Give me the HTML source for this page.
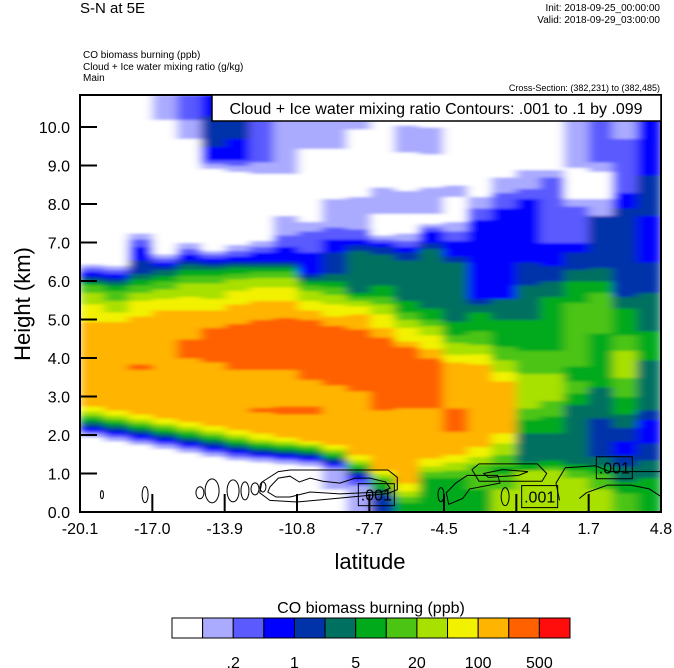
<!DOCTYPE html>
<html><head><meta charset="utf-8"><style>
html,body{margin:0;padding:0;background:#fff;}
svg{display:block;font-family:"Liberation Sans",sans-serif;}
</style></head><body>
<svg id="chart" width="674" height="668" viewBox="0 0 674 668" xmlns="http://www.w3.org/2000/svg">
<defs>
<filter id="hblur" x="0" y="0" width="1" height="1" filterUnits="objectBoundingBox">
<feGaussianBlur in="SourceGraphic" stdDeviation="5 1.2" edgeMode="duplicate"/>
</filter>
<clipPath id="plotclip"><rect x="80" y="95" width="581" height="417"/></clipPath>
</defs>
<text x="80" y="13" font-size="15">S-N at 5E</text>
<text x="660" y="11" font-size="10" text-anchor="end">Init: 2018-09-25_00:00:00</text>
<text x="660" y="23" font-size="10" text-anchor="end">Valid: 2018-09-29_03:00:00</text>
<text x="83" y="58" font-size="10">CO biomass burning   (ppb)</text>
<text x="83" y="70" font-size="10">Cloud + Ice water mixing ratio   (g/kg)</text>
<text x="83" y="81" font-size="10">Main</text>
<text x="660" y="91" font-size="9" text-anchor="end">Cross-Section: (382,231) to (382,485)</text>
<g clip-path="url(#plotclip)">
<g id="field" filter="url(#hblur)"></g>
</g>
<g id="contours"></g>
<rect x="80" y="95" width="581" height="417" fill="none" stroke="#000" stroke-width="2"/>
<g id="axes"></g>
<rect x="212" y="95" width="449" height="26" fill="#fff" stroke="#000" stroke-width="1.5"/>
<text x="436" y="114" font-size="16" text-anchor="middle">Cloud + Ice water mixing ratio Contours: .001 to .1 by .099</text>
<text x="370" y="569" font-size="22" text-anchor="middle">latitude</text>
<text transform="translate(30,304) rotate(-90)" font-size="22" text-anchor="middle">Height (km)</text>
<text x="371" y="613" font-size="16" text-anchor="middle">CO biomass burning  (ppb)</text>
<g id="colorbar"></g>
</svg>
<script>
const levelColors = ["#ffffff","#aaaaff","#5a5aff","#0000ff","#0033aa","#007060","#00aa1a","#4cc414","#a8e000","#f2f200","#ffb400","#ff6000","#ff0d0d"];
const xTickLabels = ["-20.1","-17.0","-13.9","-10.8","-7.7","-4.5","-1.4","1.7","4.8"];
const xTickValues = [-20.1,-17.0,-13.9,-10.8,-7.7,-4.5,-1.4,1.7,4.8];
const yTickValues = [0,1,2,3,4,5,6,7,8,9,10];
const colorbarLabels = [".2","1","5","20","100","500"];
const colorbarLabelIdx = [2,4,6,8,10,12];
// per-column vertical profiles: [level, top height km] bottom-up
const profiles = [
[[0,1.95],[1,2.05],[2,2.12],[3,2.2],[4,2.28],[5,2.36],[6,2.44],[7,2.52],[8,2.62],[9,2.75],[10,4.95],[9,5.4],[8,5.71],[7,5.9],[6,5.97],[5,6.05],[4,6.15],[3,6.25],[2,6.35],[1,6.45],[0,10.83]],
[[0,1.85],[1,1.95],[2,2.03],[3,2.11],[4,2.19],[5,2.27],[6,2.35],[7,2.43],[8,2.52],[9,2.65],[10,4.95],[9,5.2],[8,5.5],[7,5.75],[6,5.9],[5,6.0],[4,6.1],[3,6.2],[2,6.3],[1,6.4],[0,10.83]],
[[0,1.75],[1,1.85],[2,1.93],[3,2.01],[4,2.09],[5,2.17],[6,2.25],[7,2.33],[8,2.42],[9,2.55],[10,3.7],[11,3.85],[10,5.1],[9,5.5],[8,5.7],[7,5.9],[6,6.05],[5,6.2],[4,6.55],[3,6.9],[2,7.1],[1,7.25],[0,10.83]],
[[0,1.65],[1,1.75],[2,1.83],[3,1.91],[4,1.99],[5,2.07],[6,2.15],[7,2.23],[8,2.32],[9,2.45],[10,5.25],[9,5.55],[8,5.8],[7,6.0],[6,6.15],[5,6.3],[4,6.4],[3,6.5],[2,6.6],[1,6.7],[0,10.2],[1,10.83]],
[[0,1.55],[1,1.65],[2,1.73],[3,1.81],[4,1.89],[5,1.97],[6,2.05],[7,2.13],[8,2.22],[9,2.35],[10,4.0],[11,4.5],[10,5.25],[9,5.6],[8,5.95],[7,6.15],[6,6.3],[5,6.45],[4,6.55],[3,6.7],[2,6.85],[1,7.0],[0,9.7],[1,10.2],[2,10.83]],
[[0,1.45],[1,1.55],[2,1.63],[3,1.71],[4,1.79],[5,1.87],[6,1.95],[7,2.03],[8,2.12],[9,2.25],[10,3.9],[11,4.8],[10,5.25],[9,5.55],[8,5.95],[7,6.15],[6,6.3],[5,6.4],[4,6.5],[3,6.6],[2,6.7],[1,6.8],[0,8.93],[1,9.05],[2,9.15],[3,9.5],[4,10.3],[3,10.83]],
[[0,1.35],[1,1.45],[2,1.53],[3,1.61],[4,1.69],[5,1.77],[6,1.85],[7,1.93],[8,2.02],[9,2.15],[10,3.7],[11,4.9],[10,5.4],[9,5.75],[8,6.05],[7,6.2],[6,6.35],[5,6.45],[4,6.52],[3,6.65],[2,6.8],[1,6.95],[0,8.85],[1,9.0],[2,9.15],[3,9.7],[4,10.2],[3,10.83]],
[[0,1.3],[1,1.4],[2,1.47],[3,1.54],[4,1.61],[5,1.68],[6,1.75],[7,1.82],[8,1.9],[9,2.05],[10,2.6],[11,2.72],[10,3.7],[11,5.0],[10,5.5],[9,5.85],[8,6.1],[7,6.25],[6,6.35],[5,6.45],[4,6.52],[3,6.75],[2,6.9],[1,7.05],[0,8.8],[1,9.1],[2,10.83]],
[[0,1.25],[1,1.35],[2,1.42],[3,1.49],[4,1.56],[5,1.63],[6,1.7],[7,1.77],[8,1.85],[9,1.95],[10,2.55],[11,2.75],[10,3.7],[11,5.05],[10,5.5],[9,5.85],[8,6.1],[7,6.25],[6,6.35],[5,6.45],[4,6.52],[3,6.9],[2,7.2],[1,7.7],[0,8.8],[1,10.83]],
[[0,1.2],[1,1.3],[2,1.37],[3,1.44],[4,1.51],[5,1.58],[6,1.65],[7,1.72],[8,1.78],[9,1.85],[10,2.55],[11,2.75],[10,3.45],[11,5.0],[10,5.25],[9,5.5],[8,5.75],[7,5.9],[6,6.0],[5,6.1],[4,6.2],[3,6.75],[2,7.3],[1,7.55],[0,9.45],[1,10.83]],
[[0,0.6],[1,1.15],[2,1.22],[3,1.29],[4,1.36],[5,1.43],[6,1.5],[7,1.57],[8,1.65],[9,1.75],[10,3.3],[11,4.85],[10,5.1],[9,5.4],[8,5.65],[7,5.85],[6,6.0],[5,6.2],[4,6.75],[3,7.1],[2,7.4],[1,8.15],[0,9.45],[1,10.83]],
[[1,0.7],[2,0.85],[3,0.95],[4,1.03],[5,1.1],[6,1.18],[7,1.26],[8,1.35],[9,1.5],[10,3.15],[11,4.75],[10,5.15],[9,5.35],[8,5.5],[7,5.6],[6,5.7],[5,6.8],[4,6.95],[3,7.1],[2,7.35],[1,8.2],[0,9.95],[1,10.83]],
[[4,0.45],[5,0.6],[6,0.75],[7,0.9],[8,1.0],[9,1.1],[10,2.65],[11,4.55],[10,4.8],[9,5.15],[8,5.4],[7,5.6],[6,5.9],[5,6.7],[4,6.9],[3,7.0],[2,7.1],[1,7.2],[0,7.75],[1,8.45],[0,10.83]],
[[6,0.25],[7,0.4],[8,0.55],[9,0.75],[10,2.7],[11,4.3],[10,4.45],[9,4.8],[8,5.0],[7,5.2],[6,5.5],[5,6.55],[4,6.75],[3,6.9],[2,7.05],[1,7.25],[0,7.75],[1,8.35],[0,9.35],[1,10.05],[0,10.83]],
[[6,0.9],[7,1.05],[8,1.2],[9,1.4],[10,2.7],[11,4.0],[10,4.25],[9,4.6],[8,4.85],[7,5.0],[6,5.3],[5,6.85],[4,7.0],[3,7.3],[2,7.4],[1,7.5],[0,7.75],[1,8.45],[0,9.3],[1,10.0],[0,10.83]],
[[6,0.9],[7,1.1],[8,1.3],[9,1.5],[10,2.1],[11,2.7],[10,3.9],[9,4.1],[8,4.4],[7,4.6],[6,4.95],[5,6.5],[4,6.65],[3,7.05],[2,7.3],[1,7.55],[0,8.2],[1,8.5],[0,10.83]],
[[6,0.6],[7,1.25],[8,1.45],[9,1.7],[10,3.85],[9,4.1],[8,4.35],[7,4.7],[6,5.2],[5,5.4],[4,5.55],[3,7.6],[2,7.9],[1,8.2],[0,10.83]],
[[8,0.6],[7,1.0],[6,1.2],[7,1.5],[8,1.8],[9,2.05],[10,3.4],[9,3.65],[8,3.95],[7,4.3],[6,5.0],[5,5.55],[3,7.9],[2,8.3],[1,8.7],[0,10.83]],
[[8,1.1],[6,1.3],[5,2.05],[6,2.4],[7,2.7],[8,3.6],[7,4.2],[6,5.0],[5,5.9],[4,6.5],[3,8.15],[2,8.4],[1,8.9],[0,10.83]],
[[8,1.1],[7,1.2],[6,1.35],[5,2.05],[6,2.5],[7,2.9],[8,3.6],[7,4.2],[6,5.6],[5,6.0],[4,6.4],[3,7.0],[2,8.7],[1,8.9],[0,10.83]],
[[8,0.9],[7,1.1],[6,1.25],[5,2.8],[6,3.1],[7,3.4],[6,3.8],[7,5.45],[6,6.0],[5,6.3],[4,6.75],[3,7.0],[2,7.95],[1,8.15],[0,8.95],[1,10.83]],
[[8,0.6],[7,1.0],[6,1.2],[5,1.45],[4,2.45],[5,3.25],[6,4.65],[7,5.7],[6,6.0],[5,6.35],[4,7.7],[1,8.15],[0,8.85],[1,9.1],[2,10.83]],
[[7,0.5],[6,0.8],[5,1.2],[4,1.5],[3,1.85],[4,2.2],[5,2.55],[6,3.0],[7,3.5],[8,4.2],[7,4.6],[6,5.3],[5,5.6],[4,7.9],[3,8.3],[2,9.7],[1,10.83]],
[[6,0.9],[5,1.35],[4,1.8],[3,2.4],[4,2.65],[5,3.95],[6,4.7],[5,5.7],[4,6.5],[3,7.7],[4,8.75],[3,10.83]]
];
const contourShapes = [
[[-11.96,0.65],[-11.6,0.88],[-11.1,0.93],[-10.7,0.78],[-10.24,0.88],[-9.7,0.8],[-8.96,0.75],[-8.3,0.88],[-7.67,0.88],[-7.0,0.78],[-6.81,0.62],[-7.2,0.52],[-8.96,0.47],[-10.24,0.52],[-11.1,0.39],[-11.7,0.39],[-12.05,0.52]],
[[-12.3,0.78],[-11.6,1.05],[-11.1,1.09],[-6.9,1.09],[-6.5,0.9],[-6.5,0.58],[-6.9,0.48],[-9.5,0.33],[-10.8,0.26],[-11.96,0.3],[-12.4,0.5]],
[[-4.3,0.2],[-4.4,0.5],[-4.0,0.75],[-3.5,0.95],[-2.2,0.95],[-2.1,0.75],[-3.4,0.6],[-3.7,0.35]],
[[-3.3,1.1],[-3.0,1.25],[-0.5,1.25],[-0.1,1.0],[-0.3,0.8],[-3.0,0.8]],
[[-2.8,1.0],[-2.0,1.1],[-0.9,1.05],[-1.3,0.95],[-2.6,0.9]],
[[0.45,0.3],[0.3,0.75],[0.7,1.15],[2.0,1.2],[2.6,1.05],[4.8,1.05],[4.8,0.4],[4.3,0.6],[3.5,0.7],[2.5,0.7],[1.6,0.5],[1.3,0.35]]
];
const ellipseLat = [-19.16,-17.31,-14.96,-14.44,-13.54,-13.03,-12.6,-12.26,-4.63,-1.88];
const ellipseH = [0.45,0.45,0.5,0.55,0.55,0.55,0.6,0.65,0.45,0.4];
const ellipseRx = [1.5,3,4,7,6,4,4,3,3,4];
const ellipseRy = [4,8,6,12,11,9,6,5,7,9];
const labelLat = [-7.4,-0.4,2.8];
const labelH = [0.45,0.4,1.15];

const NS="http://www.w3.org/2000/svg";
const X0=80,X1=661,Y0=512,LAT0=-20.1,LAT1=4.8,HMAX=10.83,PXKM=38.5;
function xs(lat){return X0+(lat-LAT0)/(LAT1-LAT0)*(X1-X0);}
function ys(h){return Y0-h*PXKM;}
function mk(tag,attrs,parent){const e=document.createElementNS(NS,tag);for(const k in attrs)e.setAttribute(k,attrs[k]);parent.appendChild(e);return e;}

const field=document.getElementById('field');
const ncol=profiles.length, dlat=(LAT1-LAT0)/ncol;
profiles.forEach((prof,i)=>{
  const xa=xs(LAT0+i*dlat), xb=xs(LAT0+(i+1)*dlat);
  let lo=0;
  prof.forEach(seg=>{
    const top=Math.min(seg[1],HMAX);
    const r=mk('rect',{x:xa.toFixed(2),y:ys(top).toFixed(2),width:(xb-xa+0.6).toFixed(2),height:(ys(lo)-ys(top)+0.6).toFixed(2),fill:levelColors[seg[0]],'shape-rendering':'crispEdges'},field);
    
    
    lo=top;
  });
});

const cg=document.getElementById('contours');
contourShapes.forEach((s,i)=>{
  const pts=s.map(p=>xs(p[0]).toFixed(1)+','+ys(p[1]).toFixed(1)).join(' ');
  const closed = i<5;
  const p=mk(closed?'polygon':'polyline',{points:pts,fill:'none',stroke:'#000','stroke-width':1},cg);
  
  
});
ellipseLat.forEach((lat,i)=>{
  const e=mk('ellipse',{cx:xs(lat),cy:ys(ellipseH[i]),rx:ellipseRx[i],ry:ellipseRy[i],fill:'none',stroke:'#000','stroke-width':1},cg);
  
  
});
labelLat.forEach((lat,i)=>{
  const cx=xs(lat), cy=ys(labelH[i]);
  const b=mk('rect',{x:cx-18,y:cy-11,width:36,height:22,fill:'none',stroke:'#000','stroke-width':1},cg);
  
  
  const t=mk('text',{x:cx,y:cy+6,'font-size':16,'text-anchor':'middle'},cg);
  t.textContent='.001';
  
  
});

const ax=document.getElementById('axes');
yTickValues.forEach(v=>{
  const y=ys(v);
  const l=mk('line',{x1:X0,x2:X0+17,y1:y,y2:y,stroke:'#000','stroke-width':2},ax);
  
  
  const t=mk('text',{x:70,y:y+6,'font-size':16,'text-anchor':'end'},ax);
  t.textContent=v.toFixed(1);
  
  
});
xTickValues.forEach((v,i)=>{
  const x=xs(v);
  const l=mk('line',{x1:x,x2:x,y1:Y0,y2:Y0-18,stroke:'#000','stroke-width':2},ax);
  
  
  const t=mk('text',{x:x,y:534,'font-size':16,'text-anchor':'middle'},ax);
  t.textContent=xTickLabels[i];
  
  
});

const cb=document.getElementById('colorbar');
const CB0=172,CB1=570,CBY=618,CBH=20,bw=(CB1-CB0)/levelColors.length;
levelColors.forEach((c,i)=>{
  const r=mk('rect',{x:CB0+i*bw,y:CBY,width:bw,height:CBH,fill:c,stroke:'#000','stroke-width':1},cb);
  
  
});
colorbarLabels.forEach((s,i)=>{
  const t=mk('text',{x:CB0+colorbarLabelIdx[i]*bw,y:668,'font-size':16,'text-anchor':'middle'},cb);
  t.textContent=s;
  
  
});
</script>
</body></html>
